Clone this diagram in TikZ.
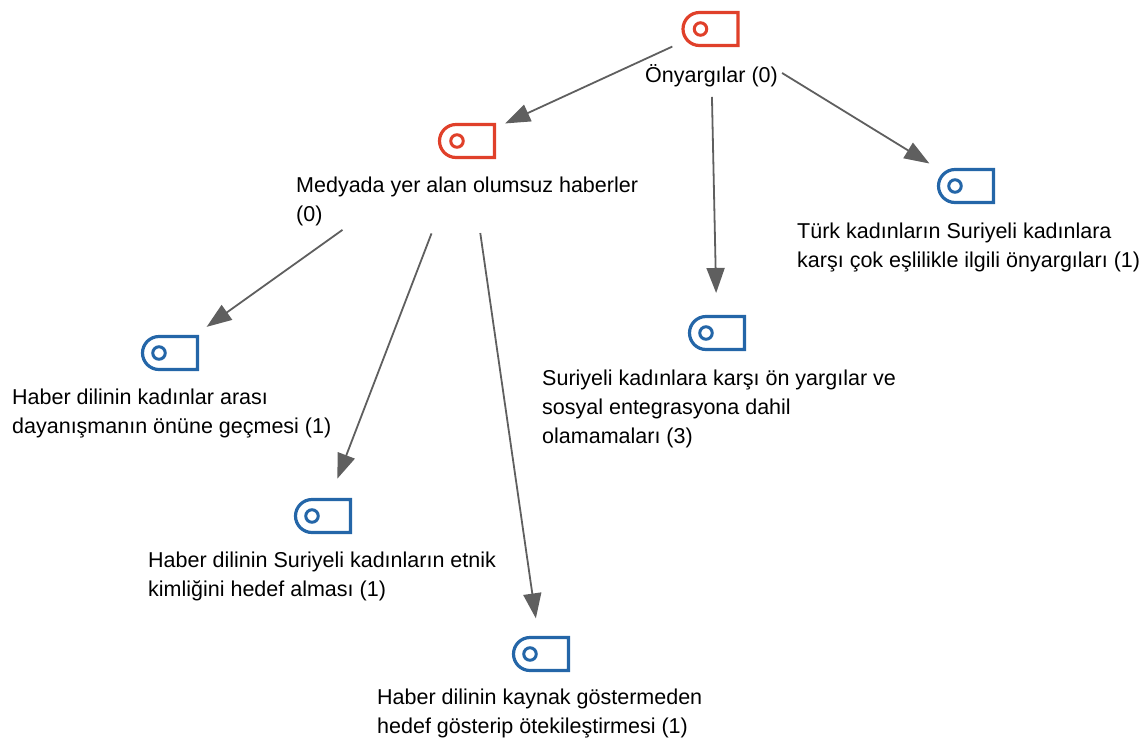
\documentclass[tikz,border=0pt]{standalone}
\usepackage{fontspec}
\setmainfont{Liberation Sans}
\usetikzlibrary{calc,arrows.meta,shapes.misc}

\definecolor{tagred}{HTML}{E0402A}
\definecolor{tagblue}{HTML}{2466A8}
\definecolor{arrowgray}{HTML}{5F5F5F}

\tikzset{
  tag/.style={rounded rectangle, rounded rectangle east arc=none, draw=#1, line width=3.2pt,
    minimum width=55pt, minimum height=33pt, inner sep=0pt, outer sep=0pt},
  dot/.style={circle, draw=#1, line width=3pt, minimum size=12.5pt, inner sep=0pt, outer sep=0pt},
  txt/.style={anchor=west, align=left, inner sep=0pt, font=\fontsize{21.5}{29}\selectfont},
  arr/.style={draw=arrowgray, line width=1.8pt, -{Triangle[length=25pt,width=18pt]},
    shorten <=#1},
}

\begin{document}
\begin{tikzpicture}[x=1pt,y=-1pt]
\useasboundingbox (0,0) rectangle (1148,740);

% Tag icons
\node[tag=tagred] (root) at (710.5,29) {};
\node[tag=tagred] (medya) at (467,141) {};
\node[tag=tagblue] (turk) at (966,186) {};
\node[tag=tagblue] (suriyeli) at (717,333) {};
\node[tag=tagblue] (dil) at (170,353) {};
\node[tag=tagblue] (kimlik) at (323,516) {};
\node[tag=tagblue] (kaynak) at (541,654) {};

% Holes of the tags
\foreach \n in {root,medya}
  \node[dot=tagred] (\n dot) at ($(\n)+(-10,0)$) {};
\foreach \n in {turk,suriyeli,dil,kimlik,kaynak}
  \node[dot=tagblue] (\n dot) at ($(\n)+(-11,0)$) {};

% Labels
\node[txt] (rootlabel) at (645,76) {Önyargılar (0)};
\node[txt] (medyalabel) at (296,201) {Medyada yer alan olumsuz haberler\\(0)};
\node[txt] (turklabel) at (797,247) {Türk kadınların Suriyeli kadınlara\\karşı çok eşlilikle ilgili önyargıları (1)};
\node[txt] (suriyelilabel) at (542,409) {Suriyeli kadınlara karşı ön yargılar ve\\sosyal entegrasyona dahil\\olamamaları (3)};
\node[txt] (dillabel) at (12,413) {Haber dilinin kadınlar arası\\dayanışmanın önüne geçmesi (1)};
\node[txt] (kimliklabel) at (148,576) {Haber dilinin Suriyeli kadınların etnik\\kimliğini hedef alması (1)};
\node[txt] (kaynaklabel) at (377,713) {Haber dilinin kaynak göstermeden\\hedef gösterip ötekileştirmesi (1)};

% Arrows, center to center
\draw[arr=42pt, shorten >=42pt] (root.center) -- (medya.center);
\draw[arr=68pt, shorten >=40pt] (root.center) -- (suriyeli.center);
\draw[arr=84pt, shorten >=43pt] (root.center) -- (turk.center);
\draw[arr=153pt, shorten >=45pt] (medya.center) -- (dil.center);
\draw[arr=99pt, shorten >=40pt] (medya.center) -- (kimlik.center);
\draw[arr=93pt, shorten >=36pt] (medya.center) -- (kaynak.center);

\end{tikzpicture}
\end{document}
